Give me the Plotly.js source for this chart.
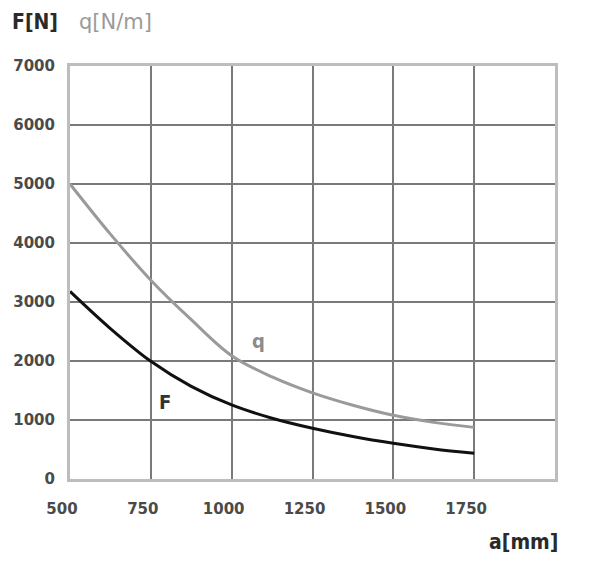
<!DOCTYPE html>
<html>
<head>
<meta charset="utf-8">
<script src="https://cdn.plot.ly/plotly-3.0.1.min.js"></script>
<style>html,body{margin:0;padding:0;background:#fff;}#chart{width:595px;height:564px;}</style>
</head>
<body>
<div id="chart"></div>
<script>
// a [mm]
const spans = [500, 625, 750, 875, 1000, 1125, 1250, 1375, 1500, 1625, 1750];
// q [N/m]
const qValues = [5000, 4150, 3370, 2700, 2090, 1730, 1460, 1250, 1080, 960, 875];
// F [N]
const fValues = [3180, 2550, 1995, 1570, 1255, 1030, 860, 720, 605, 510, 435];
const xTicks = [500, 750, 1000, 1250, 1500, 1750, 2000];
const xTickText = ['500', '750', '1000', '1250', '1500', '1750', ''];
const yTicks = [0, 1000, 2000, 3000, 4000, 5000, 6000, 7000];
const yTickText = ['0', '1000', '2000', '3000', '4000', '5000', '6000', '7000'];
const curveLabels = [
  {text: 'q', x: 1082, y: 2340, color: '#8c8c8c'},
  {text: 'F', x: 794, y: 1300, color: '#333333'}
];

const tickFont = {family: 'DejaVu Sans', size: 15, color: '#4a4a4a', weight: 'bold'};

const traces = [
  {x: spans, y: qValues, mode: 'lines', line: {color: '#9a9a9a', width: 3, shape: 'spline', smoothing: 1}, hoverinfo: 'skip'},
  {x: spans, y: fValues, mode: 'lines', line: {color: '#111111', width: 3, shape: 'spline', smoothing: 1}, hoverinfo: 'skip'}
];

const annotations = curveLabels.map(l => ({
  x: l.x, y: l.y, xref: 'x', yref: 'y', text: l.text, showarrow: false,
  font: {family: 'DejaVu Sans Condensed, DejaVu Sans', size: 20, color: l.color, weight: 'bold'}
}));
annotations.push(
  {x: 10, y: 22, xref: 'paper', yref: 'paper', text: '<b>F[N]</b>', showarrow: false,
   xanchor: 'left', yanchor: 'middle', font: {family: 'DejaVu Sans Condensed, DejaVu Sans', size: 21, color: '#2a2a2a'}},
  {x: 77, y: 22, xref: 'paper', yref: 'paper', text: 'q[N/m]', showarrow: false,
   xanchor: 'left', yanchor: 'middle', font: {family: 'DejaVu Sans', size: 21, color: '#9a9a9a'}},
  {x: 560, y: 542, xref: 'paper', yref: 'paper', text: '<b>a[mm]</b>', showarrow: false,
   xanchor: 'right', yanchor: 'middle', font: {family: 'DejaVu Sans Condensed, DejaVu Sans', size: 21, color: '#2a2a2a'}}
);
// convert pixel paper positions for the title-like labels
const W = 595, H = 564, M = {l: 70, r: 40, t: 66, b: 85};
annotations.forEach(a => {
  if (a.xref === 'paper') {
    a.x = (a.x - M.l) / (W - M.l - M.r);
    a.y = 1 - (a.y - M.t) / (H - M.t - M.b);
  }
});

const layout = {
  width: W, height: H,
  margin: M,
  paper_bgcolor: '#ffffff', plot_bgcolor: '#ffffff',
  showlegend: false,
  xaxis: {
    range: [500, 2000], tickvals: xTicks, ticktext: xTickText,
    showgrid: true, gridcolor: '#7a7a7a', gridwidth: 2,
    zeroline: false, showline: true, linecolor: '#bdbdbd', linewidth: 3, mirror: true,
    ticks: '', tickfont: tickFont, ticklabelstandoff: 14, ticklabelshift: -8,
    fixedrange: true
  },
  yaxis: {
    range: [0, 7000], tickvals: yTicks, ticktext: yTickText,
    showgrid: true, gridcolor: '#7a7a7a', gridwidth: 2,
    zeroline: false, showline: true, linecolor: '#bdbdbd', linewidth: 3, mirror: true,
    ticks: '', tickfont: tickFont, ticklabelstandoff: 9,
    fixedrange: true
  },
  annotations: annotations
};

Plotly.newPlot('chart', traces, layout, {displayModeBar: false, staticPlot: true});
</script>
</body>
</html>
